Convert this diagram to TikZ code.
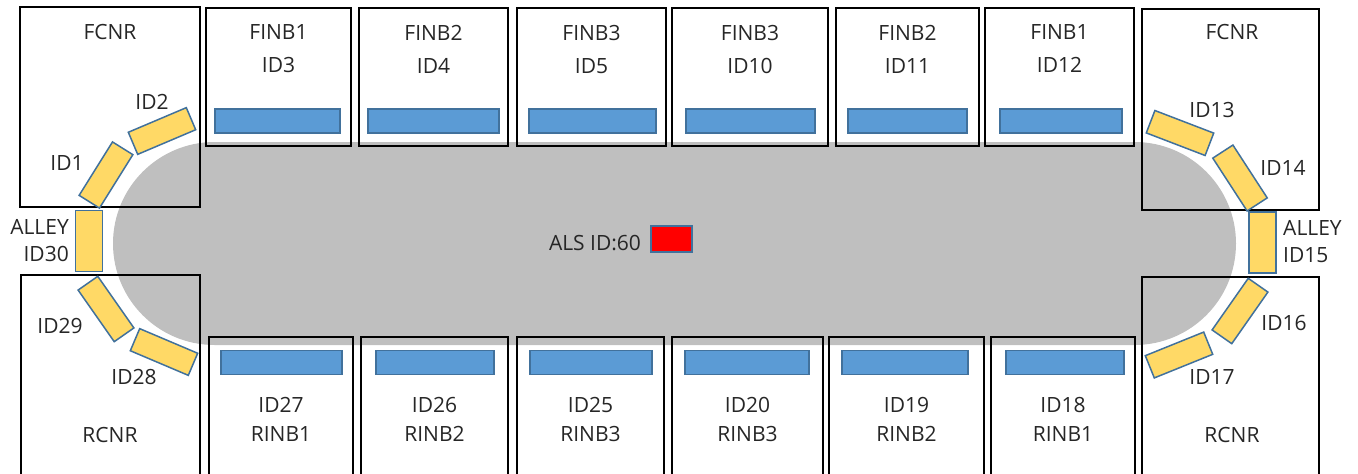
\documentclass[tikz,border=0pt]{standalone}
\usepackage{fontspec}
\setmainfont{Open Sans}
\usetikzlibrary{positioning, shapes.misc}
\definecolor{ringgray}{HTML}{BFBFBF}
\definecolor{barblue}{HTML}{5B9BD5}
\definecolor{edgeblue}{HTML}{41719C}
\definecolor{magyellow}{HTML}{FFD966}
\definecolor{inkgray}{HTML}{262626}

\begin{document}
\begin{tikzpicture}[x=1pt, y=-1pt,
  block/.style={draw, line width=2.6pt, inner sep=0pt},
  bar/.style={draw=edgeblue, fill=barblue, line width=1.5pt, minimum width=#1, minimum height=24pt, inner sep=0pt},
  magnet/.style={draw=edgeblue, fill=magyellow, line width=1.5pt, minimum width=63pt, minimum height=24pt, inner sep=0pt},
  alley/.style={draw=edgeblue, fill=magyellow, line width=1.5pt, minimum width=27pt, minimum height=61pt, inner sep=0pt},
  txt/.style={text=inkgray, inner sep=0pt, align=center, font=\fontsize{21}{33}\selectfont},
  ring/.style={rounded rectangle, fill=ringgray, minimum width=1123pt, minimum height=203pt, inner sep=0pt}]

  \useasboundingbox (0,0) rectangle (1358,474);
  \clip (0,0) rectangle (1358,474);

  % Storage ring
  \node[ring] (R) at (674.5,243.5) {};

  % Top row
  \node[block, minimum width=145pt, minimum height=138pt] (T3) at (278.5,77) {};
  \node[block, minimum width=149pt, minimum height=138pt] (T4) at (433.5,77) {};
  \node[block, minimum width=149pt, minimum height=138pt] (T5) at (591.5,77) {};
  \node[block, minimum width=156pt, minimum height=138pt] (T10) at (750,77) {};
  \node[block, minimum width=143pt, minimum height=138pt] (T11) at (907.5,77) {};
  \node[block, minimum width=149pt, minimum height=138pt] (T12) at (1059.5,77) {};

  % Bottom row
  \node[block, minimum width=144pt, minimum height=143pt] (B27) at (281,408.5) {};
  \node[block, minimum width=147pt, minimum height=143pt] (B26) at (434.5,408.5) {};
  \node[block, minimum width=147pt, minimum height=143pt] (B25) at (590.5,408.5) {};
  \node[block, minimum width=151pt, minimum height=143pt] (B20) at (747.5,408.5) {};
  \node[block, minimum width=155pt, minimum height=143pt] (B19) at (906.5,408.5) {};
  \node[block, minimum width=144pt, minimum height=143pt] (B18) at (1063,408.5) {};

  % Corners
  \node[block, minimum width=180pt, minimum height=200pt] (FL) at (110,107) {};
  \node[block, minimum width=177pt, minimum height=201pt] (FR) at (1230.5,109.5) {};
  \node[block, minimum width=179pt, minimum height=205pt] (RL) at (110.5,377.5) {};
  \node[block, minimum width=177pt, minimum height=203pt] (RR) at (1230.5,378.5) {};

  % Box labels
  \node[txt, below=18pt of T3.north] (L3) {FINB1\\ID3};
  \node[txt, below=18pt of T4.north] (L4) {FINB2\\ID4};
  \node[txt, below=18pt of T5.north] (L5) {FINB3\\ID5};
  \node[txt, below=18pt of T10.north] (L10) {FINB3\\ID10};
  \node[txt, below=18pt of T11.north] (L11) {FINB2\\ID11};
  \node[txt, below=18pt of T12.north] (L12) {FINB1\\ID12};
  \node[txt, font=\fontsize{21}{29}\selectfont, below=61.5pt of B27.north] (L27) {ID27\\RINB1};
  \node[txt, font=\fontsize{21}{29}\selectfont, below=61.5pt of B26.north] (L26) {ID26\\RINB2};
  \node[txt, font=\fontsize{21}{29}\selectfont, below=61.5pt of B25.north] (L25) {ID25\\RINB3};
  \node[txt, font=\fontsize{21}{29}\selectfont, below=61.5pt of B20.north] (L20) {ID20\\RINB3};
  \node[txt, font=\fontsize{21}{29}\selectfont, below=61.5pt of B19.north] (L19) {ID19\\RINB2};
  \node[txt, font=\fontsize{21}{29}\selectfont, below=61.5pt of B18.north] (L18) {ID18\\RINB1};
  \node[txt] (LFL) at (110,32) {FCNR};
  \node[txt] (LFR) at (1232,32) {FCNR};
  \node[txt] (LRL) at (110,435) {RCNR};
  \node[txt] (LRR) at (1232,435) {RCNR};

  % Straight section devices
  \node[bar=125pt] (D3) at (277.5,121) {};
  \node[bar=131pt] (D4) at (433.5,121) {};
  \node[bar=127pt] (D5) at (592.5,121) {};
  \node[bar=129pt] (D10) at (750.5,121) {};
  \node[bar=119pt] (D11) at (907.5,121) {};
  \node[bar=122pt] (D12) at (1061,121) {};
  \node[bar=121pt] (D27) at (281.5,362.5) {};
  \node[bar=118pt] (D26) at (435,362.5) {};
  \node[bar=122pt] (D25) at (591,362.5) {};
  \node[bar=124pt] (D20) at (747,362.5) {};
  \node[bar=126pt] (D19) at (905,362.5) {};
  \node[bar=118pt] (D18) at (1065,362.5) {};

  % Corner devices
  \node[magnet, rotate=58] (D1) at (106,175) {};
  \node[magnet, rotate=23] (D2) at (162,131) {};
  \node[alley] (D30) at (89,241) {};
  \node[magnet, rotate=-55] (D29) at (106,309) {};
  \node[magnet, rotate=-23] (D28) at (164,352) {};
  \node[magnet, rotate=-21] (D13) at (1180,133) {};
  \node[magnet, rotate=-57] (D14) at (1240,178) {};
  \node[alley] (D15) at (1262.5,242.5) {};
  \node[magnet, rotate=55] (D16) at (1240,311) {};
  \node[magnet, rotate=22] (D17) at (1179,355) {};

  % Corner device labels
  \node[txt] at (67,163) {ID1};
  \node[txt] at (152,102) {ID2};
  \node[txt, align=right, font=\fontsize{21}{27}\selectfont, anchor=east] at (69,241) {ALLEY\\ID30};
  \node[txt] at (60,326) {ID29};
  \node[txt] at (134,377) {ID28};
  \node[txt] at (1212,110) {ID13};
  \node[txt] at (1283,168) {ID14};
  \node[txt, align=left, font=\fontsize{21}{27}\selectfont, anchor=west] at (1283,242) {ALLEY\\ID15};
  \node[txt] at (1284,323) {ID16};
  \node[txt] at (1212,377) {ID17};

  % Centre
  \node[txt] (ALS) at (595,243) {ALS ID:60};
  \node[draw=edgeblue, fill=red, line width=1.5pt, minimum width=41pt, minimum height=26pt, inner sep=0pt] (D60) at (671.5,239) {};

\end{tikzpicture}
\end{document}
